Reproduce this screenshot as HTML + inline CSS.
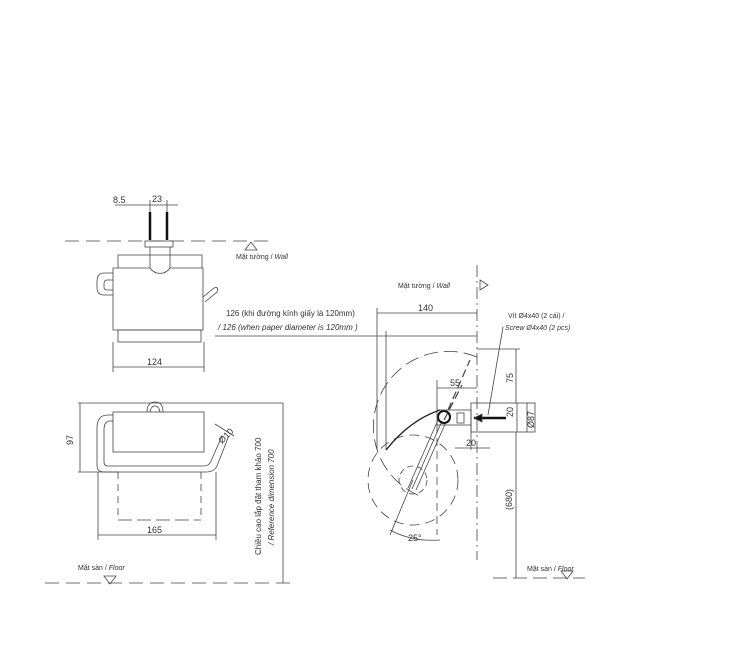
<!DOCTYPE html>
<html><head><meta charset="utf-8"><style>
html,body{margin:0;padding:0;background:#fff}
svg{display:block}
text{font-family:"Liberation Sans",sans-serif;fill:#333}
</style></head><body>
<svg width="739" height="648" viewBox="0 0 739 648" xmlns="http://www.w3.org/2000/svg">
<g stroke="#444" fill="none" stroke-width="0.8">
<!-- top-left view -->
<line x1="65" y1="241" x2="270" y2="241" stroke-dasharray="14,7"/>
<path d="M245 250 L257 250 L251 242 Z"/>
<line x1="150" y1="212" x2="150" y2="240" stroke="#111" stroke-width="2.5"/>
<line x1="167" y1="212" x2="167" y2="240" stroke="#111" stroke-width="2.5"/>
<line x1="115" y1="205" x2="150" y2="205"/><line x1="150" y1="205" x2="178" y2="205"/>
<line x1="150" y1="200" x2="150" y2="212"/><line x1="167" y1="200" x2="167" y2="212"/>
<rect x="145" y="241" width="28" height="6"/>
<path d="M118 268 V255 H202 V268"/>
<path d="M150 247 V268 M170 247 V268"/>
<path d="M150 268 A12 12 0 0 0 170 268"/>
<path d="M118 268 H113 V330 H203 V268 H198"/>
<path d="M150 268 H118 M170 268 H198"/>
<rect x="118" y="330" width="83" height="12"/>
<path d="M113 273 H104 Q97 273 97 282 V288 Q97 295 104 295 H113"/>
<path d="M113 280 H107 Q104 280 104 284 V287 Q104 290 107 290 H113"/>
<path d="M203 297 L214 288 Q219 286 217 292 L205 302"/>
<line x1="113" y1="342" x2="113" y2="372"/><line x1="204" y1="342" x2="204" y2="372"/>
<line x1="113" y1="367" x2="204" y2="367"/>
<!-- bottom-left view -->
<line x1="78" y1="403" x2="283" y2="403"/>
<line x1="80" y1="403" x2="80" y2="472"/>
<line x1="78" y1="472" x2="118" y2="472"/>
<rect x="113" y="412" width="91" height="40"/>
<path d="M147 412 Q147 402 155 402 Q163 402 163 412"/>
<path d="M150 412 Q151 406 155 406 Q159 406 160 412"/>
<path d="M113 415 H108 Q97 415 97 428 V465 Q97 472 104 472 H206 Q214 472 217 466 L228 438"/>
<path d="M113 421 H110 Q104 421 104 430 V462 Q104 466 108 466 H204 Q209 466 211 461 L222 436"/>
<line x1="118" y1="472" x2="118" y2="520" stroke-dasharray="7,5"/>
<line x1="201" y1="472" x2="201" y2="520" stroke-dasharray="7,5"/>
<line x1="118" y1="520" x2="201" y2="520" stroke-dasharray="14,5"/>
<line x1="98" y1="472" x2="98" y2="540"/><line x1="216" y1="472" x2="216" y2="540"/>
<line x1="98" y1="535" x2="216" y2="535"/>
<line x1="215" y1="424" x2="234" y2="436"/>
<line x1="283" y1="403" x2="283" y2="583"/>
<line x1="45" y1="583" x2="290" y2="583" stroke-dasharray="14,7"/>
<path d="M104 576 L116 576 L110 584 Z"/>
<!-- side view -->
<line x1="477" y1="265" x2="477" y2="560" stroke-dasharray="12,4,2,4"/>
<path d="M480 280 L480 290 L488 285 Z"/>
<line x1="377" y1="313" x2="477" y2="313"/><line x1="377" y1="308" x2="377" y2="450"/>
<line x1="215" y1="336" x2="477" y2="336"/><line x1="386" y1="331" x2="386" y2="450"/>
<path d="M477 357 A75 75 0 1 0 420 496" stroke-dasharray="14,6"/>
<circle cx="413" cy="480" r="45" stroke-dasharray="10,6"/>
<circle cx="413" cy="480" r="14" stroke-dasharray="6,4"/>
<path d="M386 450 Q410 420 440 410" stroke="#222" stroke-width="1.4"/>
<path d="M444 420 L462 385 M448 410 L470 360" stroke-dasharray="8,4" stroke-width="1.2"/>
<path d="M438 420 L408 488 M446 422 L416 490 M442 421 L412 489" />
<circle cx="444" cy="417" r="6" stroke="#111" stroke-width="2"/>
<rect x="437" y="410" width="34" height="15"/>
<rect x="457" y="413" width="7" height="10"/>
<line x1="437" y1="380" x2="437" y2="410"/>
<line x1="437" y1="388" x2="477" y2="388"/>
<line x1="437" y1="425" x2="437" y2="535" stroke-dasharray="8,5"/>
<line x1="471" y1="425" x2="471" y2="450"/>
<line x1="455" y1="448" x2="490" y2="448"/>
<rect x="471" y="403" width="64" height="29"/>
<line x1="517" y1="403" x2="517" y2="432"/>
<line x1="474" y1="418" x2="506" y2="418" stroke="#111" stroke-width="2.5"/>
<path d="M474 418 L482 414 L482 422 Z" fill="#111"/>
<line x1="503" y1="327" x2="488" y2="415"/>
<line x1="477" y1="349" x2="520" y2="349"/>
<line x1="516" y1="349" x2="516" y2="403"/>
<line x1="527" y1="403" x2="527" y2="432"/>
<line x1="516" y1="432" x2="516" y2="578"/>
<line x1="493" y1="578" x2="585" y2="578" stroke-dasharray="14,6"/>
<path d="M561 571 L573 571 L567 579 Z"/>
<line x1="413" y1="480" x2="390" y2="535"/>
<path d="M390 530 Q412 542 440 540"/>
</g>
<g font-size="9">
<text x="113" y="203">8.5</text>
<text x="152" y="202">23</text>
<text x="236" y="259" font-size="7">Mặt tường / <tspan font-style="italic">Wall</tspan></text>
<text x="147" y="365">124</text>
<text x="147" y="533">165</text>
<text x="78" y="570" font-size="7">Mặt sàn / <tspan font-style="italic">Floor</tspan></text>
<text transform="translate(73,445) rotate(-90)">97</text>
<text transform="translate(222,444) rotate(-45)">Ø10</text>
<text transform="translate(261,555) rotate(-90)" font-size="8">Chiều cao lắp đặt tham khảo 700</text>
<text transform="translate(274,545) rotate(-90)" font-size="8" font-style="italic">/ Reference dimension 700</text>
<text x="226" y="316" font-size="8">126 (khi đường kính giấy là 120mm)</text>
<text x="218" y="330" font-size="8" font-style="italic">/ 126 (when  paper diameter is 120mm )</text>
<text x="398" y="288" font-size="7">Mặt tường / <tspan font-style="italic">Wall</tspan></text>
<text x="418" y="311">140</text>
<text x="508" y="318" font-size="7">Vít Ø4x40 (2 cái) /</text>
<text x="505" y="330" font-size="7" font-style="italic">Screw Ø4x40 (2 pcs)</text>
<text x="450" y="386">55</text>
<text transform="translate(513,383) rotate(-90)">75</text>
<text transform="translate(513,417) rotate(-90)">20</text>
<text transform="translate(534,428) rotate(-90)">Ø87</text>
<text x="466" y="446">20</text>
<text transform="translate(512,510) rotate(-90)">(680)</text>
<text x="408" y="541">25°</text>
<text x="527" y="571" font-size="7">Mặt sàn / <tspan font-style="italic">Floor</tspan></text>
</g>
</svg>
</body></html>
